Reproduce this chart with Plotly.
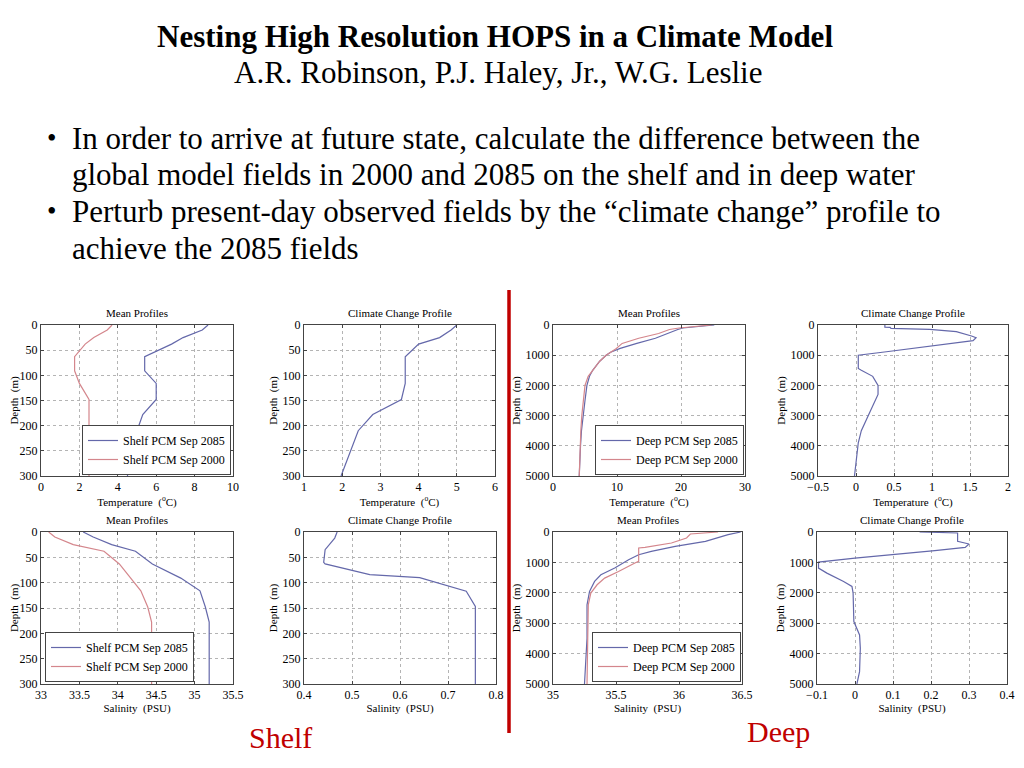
import plotly.graph_objects as go

# ---------------- data ----------------
shelf_depth = [0, 10, 25, 38, 63, 91, 116, 148, 178, 210, 300]
shelf_T_2085 = [8.7, 8.4, 7.4, 6.8, 5.4, 5.4, 6.0, 6.0, 5.3, 5.0, 4.5]
shelf_T_2000 = [3.7, 3.45, 2.75, 2.3, 1.75, 1.75, 2.0, 2.5, 2.5, 2.5, 2.5]
shelf_T_change = [5.0, 4.85, 4.55, 4.0, 3.65, 3.65, 3.65, 3.55, 2.8, 2.42, 1.97]

shelf_S_2085 = [33.55, 33.68, 33.92, 34.23, 34.45, 34.82, 35.07, 35.14, 35.19, 35.19, 35.19]
shelf_S_2000 = [33.10, 33.18, 33.42, 33.82, 34.02, 34.17, 34.30, 34.39, 34.44, 34.44, 34.44]
shelf_S_change_depth = [0, 12, 35, 60, 63, 84, 90, 117, 147, 300]
shelf_S_change = [0.469, 0.464, 0.444, 0.441, 0.444, 0.537, 0.641, 0.738, 0.757, 0.757]

deep_depth = [0, 50, 100, 150, 280, 440, 610, 775, 900, 1000, 1200, 1500, 1700, 2000, 2500, 3000, 3500, 4000, 5000]
deep_T_2085 = [25.2, 22.0, 20.3, 19.5, 18.0, 16.0, 13.1, 10.5, 9.0, 8.3, 7.3, 6.2, 5.7, 5.3, 5.0, 4.7, 4.45, 4.3, 4.1]
deep_T_2000 = [24.8, 21.5, 19.7, 18.2, 16.5, 13.4, 10.8, 9.9, 9.0, 8.3, 7.3, 6.2, 5.5, 5.0, 4.7, 4.5, 4.35, 4.25, 4.1]
deep_T_change_depth = [0, 75, 80, 110, 145, 220, 365, 420, 520, 700, 885, 1000, 1440, 1500, 1700, 2000, 2300, 2900, 3500, 3900, 5000]
deep_T_change = [0.38, 0.38, 0.45, 0.46, 0.97, 1.32, 1.52, 1.58, 1.54, 1.01, 0.40, 0.03, 0.03, 0.07, 0.22, 0.29, 0.29, 0.18, 0.07, 0.03, -0.02]

deep_S_2085_depth = [0, 33, 88, 308, 473, 637, 747, 912, 1187, 1407, 1626, 1956, 2396, 3495, 5000]
deep_S_2085 = [36.49, 36.45, 36.39, 36.21, 35.97, 35.78, 35.68, 35.60, 35.49, 35.38, 35.33, 35.29, 35.27, 35.27, 35.25]
deep_S_2000_depth = [0, 66, 198, 363, 505, 527, 967, 1022, 1297, 1516, 1736, 2011, 2396, 5000]
deep_S_2000 = [36.31, 36.09, 36.06, 35.94, 35.73, 35.68, 35.68, 35.65, 35.52, 35.41, 35.35, 35.30, 35.28, 35.27]
deep_S_change_depth = [0, 33, 88, 308, 396, 505, 615, 747, 857, 989, 1187, 1352, 1626, 1791, 2011, 2945, 3385, 3824, 4593, 5000]
deep_S_change = [0.17, 0.27, 0.27, 0.27, 0.30, 0.29, 0.21, 0.084, 0.0, -0.096, -0.096, -0.074, -0.03, -0.008, -0.005, -0.003, 0.012, 0.014, 0.012, 0.005]

shelf_depth_ticks = [0, 50, 100, 150, 200, 250, 300]
deep_depth_ticks = [0, 1000, 2000, 3000, 4000, 5000]

# ---------------- layout helpers ----------------
OFF = 8  # default page body margin
W, H = 1024 - 2 * OFF, 768 - 2 * OFF
BLUE = "#6468aa"
RED = "#d4868c"
DARKRED = "#c00000"
SERIF = "Liberation Serif, Times New Roman, serif"


def px_x(v):
    return (v - OFF) / W


def px_y(v):
    return 1 - (v - OFF) / H


# panel pixel boxes: (x0, x1, ytop, ybottom)
panels = [
    (41, 233, 325, 476),
    (304, 495, 325, 476),
    (553, 745, 325, 476),
    (818, 1008, 325, 476),
    (41, 233, 532, 684),
    (304, 496, 532, 684),
    (553, 742, 532, 684),
    (817, 1007, 532, 684),
]
xranges = [[0, 10], [1, 6], [0, 30], [-0.5, 2], [33, 35.5], [0.4, 0.8], [35, 36.5], [-0.1, 0.4]]
xdticks = [2, 1, 10, 0.5, 0.5, 0.1, 0.5, 0.1]
deep_panels = [2, 3, 6, 7]
titles = ["Mean Profiles", "Climate Change Profile"] * 4
xlabels = ["Temperature  (<sup>o</sup>C)"] * 4 + ["Salinity  (PSU)"] * 4

fig = go.Figure()

series = [
    (1, shelf_depth, shelf_T_2085, BLUE, "Shelf PCM Sep 2085", "legend"),
    (1, shelf_depth, shelf_T_2000, RED, "Shelf PCM Sep 2000", "legend"),
    (2, shelf_depth, shelf_T_change, BLUE, None, None),
    (3, deep_depth, deep_T_2085, BLUE, "Deep PCM Sep 2085", "legend2"),
    (3, deep_depth, deep_T_2000, RED, "Deep PCM Sep 2000", "legend2"),
    (4, deep_T_change_depth, deep_T_change, BLUE, None, None),
    (5, shelf_depth, shelf_S_2085, BLUE, "Shelf PCM Sep 2085", "legend3"),
    (5, shelf_depth, shelf_S_2000, RED, "Shelf PCM Sep 2000", "legend3"),
    (6, shelf_S_change_depth, shelf_S_change, BLUE, None, None),
    (7, deep_S_2085_depth, deep_S_2085, BLUE, "Deep PCM Sep 2085", "legend4"),
    (7, deep_S_2000_depth, deep_S_2000, RED, "Deep PCM Sep 2000", "legend4"),
    (8, deep_S_change_depth, deep_S_change, BLUE, None, None),
]

for idx, d, v, col, name, leg in series:
    sfx = "" if idx == 1 else str(idx)
    kw = dict(x=v, y=d, mode="lines", line=dict(color=col, width=1.2),
              xaxis="x" + sfx, yaxis="y" + sfx, hoverinfo="skip")
    if name:
        kw.update(name=name, showlegend=True, legend=leg)
    else:
        kw.update(showlegend=False)
    fig.add_trace(go.Scatter(**kw))

layout = dict(
    width=W, height=H, autosize=False,
    margin=dict(l=0, r=0, t=0, b=0),
    paper_bgcolor="white", plot_bgcolor="white",
    font=dict(family=SERIF, color="black"),
)

for i, (x0, x1, yt, yb) in enumerate(panels):
    sfx = "" if i == 0 else str(i + 1)
    deep = i in deep_panels
    layout["xaxis" + sfx] = dict(
        domain=[px_x(x0), px_x(x1)], range=xranges[i], anchor="y" + sfx,
        dtick=xdticks[i], tick0=xranges[i][0], ticks="inside", ticklen=3,
        showline=True, mirror="ticks", linecolor="#444", linewidth=1,
        showgrid=True, gridcolor="#b4b4b4", griddash="dot", gridwidth=1,
        zeroline=False, tickfont=dict(size=12, family=SERIF), automargin=False,
        title=dict(text=xlabels[i], font=dict(size=11, family=SERIF), standoff=0),
    )
    layout["yaxis" + sfx] = dict(
        domain=[px_y(yb), px_y(yt)], anchor="x" + sfx,
        range=[5000, 0] if deep else [300, 0],
        tickvals=deep_depth_ticks if deep else shelf_depth_ticks,
        ticks="inside", ticklen=3,
        showline=True, mirror="ticks", linecolor="#444", linewidth=1,
        showgrid=True, gridcolor="#b4b4b4", griddash="dot", gridwidth=1,
        zeroline=False, tickfont=dict(size=12, family=SERIF), automargin=False,
        title=dict(text="Depth  (m)", font=dict(size=11, family=SERIF), standoff=2),
    )

legend_common = dict(
    bgcolor="white", bordercolor="#444", borderwidth=1,
    font=dict(size=12, family=SERIF), xanchor="right", yanchor="bottom",
    tracegroupgap=0, itemwidth=30,
)
layout["legend"] = dict(legend_common, x=px_x(231), y=px_y(475))
layout["legend2"] = dict(legend_common, x=px_x(744), y=px_y(475))
layout["legend3"] = dict(legend_common, xanchor="left", x=px_x(45), y=px_y(682))
layout["legend4"] = dict(legend_common, x=px_x(741), y=px_y(682))

fig.update_layout(**layout)

ann = []


def add_text(text, x, y, size, color="black", xanchor="center", yanchor="middle", bold=False):
    if bold:
        text = "<b>" + text + "</b>"
    ann.append(dict(text=text, x=px_x(x), y=px_y(y), xref="paper", yref="paper",
                    showarrow=False, xanchor=xanchor, yanchor=yanchor,
                    font=dict(size=size, color=color, family=SERIF)))


for i, (x0, x1, yt, yb) in enumerate(panels):
    add_text(titles[i], (x0 + x1) / 2, yt - 12, 11)

# slide texts
add_text("Nesting High Resolution HOPS in a Climate Model", 495, 36, 31, bold=True)
add_text("A.R. Robinson, P.J. Haley, Jr., W.G. Leslie", 498, 72, 31)
bullets = [
    (True, "In order to arrive at future state, calculate the difference between the"),
    (False, "global model fields in 2000 and 2085 on the shelf and in deep water"),
    (True, "Perturb present-day observed fields by the \u201cclimate change\u201d profile to"),
    (False, "achieve the 2085 fields"),
]
for k, (b, line) in enumerate(bullets):
    yy = 138 + k * 36.7
    if b:
        add_text("\u2022", 45, yy, 27, xanchor="left")
    add_text(line, 70, yy, 31, xanchor="left")

add_text("Shelf", 280, 737, 30, color=DARKRED)
add_text("Deep", 778, 731, 30, color=DARKRED)

fig.update_layout(annotations=ann)
fig.add_shape(type="line", xref="paper", yref="paper",
              x0=px_x(509), x1=px_x(509), y0=px_y(290), y1=px_y(733),
              line=dict(color=DARKRED, width=3.5))

fig.write_html("out.html")
